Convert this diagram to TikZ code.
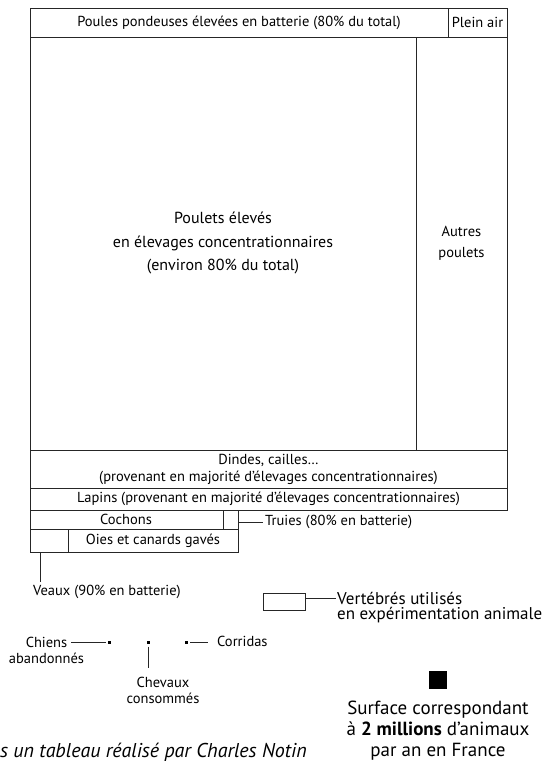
\documentclass[tikz,border=0pt]{standalone}
\usepackage{fontspec}
\setmainfont{PT Sans}
\usetikzlibrary{positioning}
\tikzset{
  trait/.style={line width=0.8pt, black!85},
  lbl/.style={font=\fontsize{14.5}{17}\selectfont, inner sep=0pt, align=center},
  grand/.style={font=\fontsize{17}{17}\selectfont, inner sep=0pt, align=left},
  petit/.style={fill=black, minimum size=3pt, inner sep=0pt},
}
\begin{document}
\begin{tikzpicture}[x=1pt,y=-1pt]
\useasboundingbox (0,0) rectangle (547,764);
% le grand tableau
\draw[trait] (30,8) rectangle (507,510);
\draw[trait] (30,37) -- (507,37);
\draw[trait] (448,8) -- (448,37);
\draw[trait] (416,37) -- (416,450);
\draw[trait] (30,450) -- (507,450);
\draw[trait] (30,488) -- (507,488);
% cochons, oies
\draw[trait] (30,510) rectangle (238,552);
\draw[trait] (30,529) -- (238,529);
\draw[trait] (223,510) -- (223,529);
\draw[trait] (68,529) -- (68,552);
\node[lbl] (poules) at (239,22.5) {Poules pondeuses élevées en batterie (80\% du total)};
\node[lbl] (plein) at (477.5,22.5) {Plein air};
\node[lbl, font=\fontsize{16}{23.5}\selectfont] (poulets) at (223,243) {Poulets élevés\\en élevages concentrationnaires\\(environ 80\% du total)};
\node[lbl, font=\fontsize{14.5}{21}\selectfont] (autres) at (461.5,243) {Autres\\poulets};
\node[lbl] (dindes) at (268.5,469) {Dindes, cailles…\\(provenant en majorité d’élevages concentrationnaires)};
\node[lbl] (lapins) at (268.5,499) {Lapins (provenant en majorité d’élevages concentrationnaires)};
\node[lbl] (cochons) at (126,519.5) {Cochons};
\node[lbl] (oies) at (153,540.5) {Oies et canards gavés};
% legendes
\coordinate (truies) at (238,522);
\node[lbl, anchor=west] (truiesTxt) at (265,522) {Truies (80\% en batterie)};
\draw[trait, shorten >=2pt] (truies) -- (truiesTxt);
\coordinate (veaux) at (40,552);
\node[lbl, anchor=west] (veauxTxt) at (33,592) {Veaux (90\% en batterie)};
\draw[trait] (veaux) -- (veaux |- 0,582);
\node[draw, trait, minimum width=42pt, minimum height=17pt, inner sep=0pt] (labo) at (284,601.5) {};
\node[grand, anchor=west] (vert1) at (337,598) {Vertébrés utilisés};
\node[grand, anchor=west] (vert2) at (337,615) {en expérimentation animale};
\draw[trait, shorten >=1pt] (labo.east |- vert1) -- (vert1);
% petits carres
\node[petit] (sqChiens) at (109.5,642) {};
\node[petit] (sqChevaux) at (148.5,642) {};
\node[petit] (sqCorridas) at (186.5,642) {};
\node[lbl] (chiens) at (46.5,642) {Chiens};
\node[lbl] (abandon) at (46.5,658) {abandonnés};
\draw[trait, shorten <=4pt, shorten >=2pt] (chiens) -- (sqChiens);
\node[lbl, font=\fontsize{14.5}{16}\selectfont] (chevaux) at (163,690) {Chevaux\\consommés};
\draw[trait, shorten <=3pt] (sqChevaux) -- (sqChevaux |- 0,668);
\node[lbl, anchor=west] (corridas) at (217,641) {Corridas};
\draw[trait, shorten <=2pt, shorten >=9pt] (sqCorridas) -- (corridas.west |- sqCorridas);
% echelle
\node[fill=black, minimum size=18pt, inner sep=0pt] (echelle) at (438,680) {};
\node[font=\fontsize{19}{21}\selectfont, align=center, inner sep=0pt] (surface) at (438,731) {Surface correspondant\\à \textbf{2 millions} d’animaux\\par an en France};
\node[font=\fontsize{20}{22}\itshape, inner sep=0pt, anchor=base west] (source) at (0,757) {s un tableau réalisé par Charles Notin};
\end{tikzpicture}
\end{document}
